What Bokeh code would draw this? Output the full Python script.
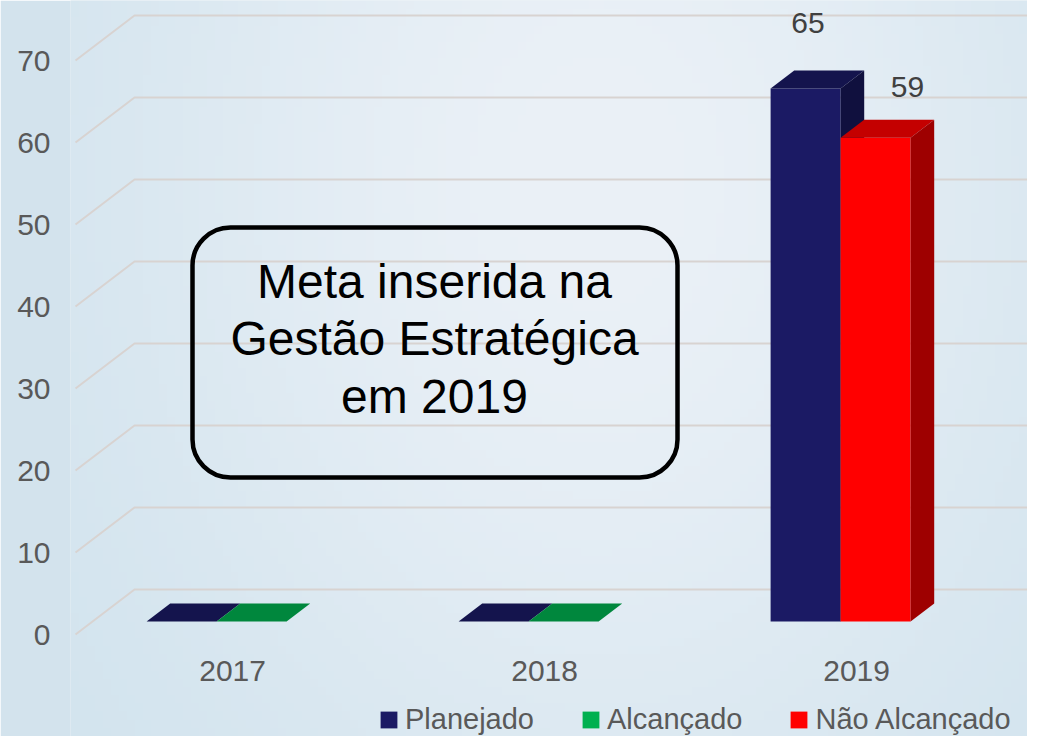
import numpy as np
from bokeh.plotting import figure
from bokeh.models import Range1d, FixedTicker, BoxAnnotation, Legend, LegendItem
from bokeh.core.properties import value
from bokeh.embed import file_html
from bokeh.resources import INLINE

# ---------------- data ----------------
years = ["2017", "2018", "2019"]
planejado = [0, 0, 65]
alcancado = [0, 0, None]
nao_alcancado = [None, None, 59]
y_ticks = [0, 10, 20, 30, 40, 50, 60, 70]
note_lines = ["Meta inserida na", "Gestão Estratégica", "em 2019"]

# ---------------- geometry / style ----------------
W, H = 1027, 736
LEFT = 70
PX_X = 312.0          # px per category
PX_Y = 8.2            # px per value unit
X0 = 199              # px of category 0 centre on the front plane
Y0 = 634              # px (from top) of value 0 on the front plane
x_start, x_end = (LEFT - X0) / PX_X, (W - X0) / PX_X
y_start, y_end = (Y0 - H) / PX_Y, Y0 / PX_Y

DX = 59 / PX_X        # full floor depth, x shift
DY = 45 / PX_Y        # full floor depth, y shift
D_F, D_B = 0.29, 0.69 # bar front / back depth
BAR_W = 70 / PX_X
GRID_X0 = (75 - X0) / PX_X

FONT = value("Liberation Sans")

def shade(hexcol, k):
    h = hexcol.lstrip("#")
    r, g, b = (int(h[i:i + 2], 16) for i in (0, 2, 4))
    return "#%02x%02x%02x" % (int(r * k), int(g * k), int(b * k))

series = [
    ("Planejado", planejado, "#1b1a64", -1),
    ("Alcançado", alcancado, "#00b050", 0),
    ("Não Alcançado", nao_alcancado, "#ff0000", 0),
]

p = figure(width=W, height=H, output_backend="svg", toolbar_location=None,
           x_range=Range1d(x_start, x_end), y_range=Range1d(y_start, y_end),
           x_axis_location=None, min_border_left=LEFT, min_border_right=0,
           min_border_top=0, min_border_bottom=0)
p.outline_line_color = None
p.xgrid.visible = False
p.ygrid.visible = False
p.background_fill_color = "#d9e7f0"
p.border_fill_color = "#d3e3ed"

# background gradient (style only)
nx, ny = 120, 90
u = (np.arange(nx) + 0.5) / nx
v = 1 - (np.arange(ny) + 0.5) / ny  # row 0 at bottom -> v from top
U, V = np.meshgrid(u, v)
wgt = np.exp(-(((U - 0.55) / 0.5) ** 2 + ((V - 0.25) / 0.9) ** 2))
edge = np.array([207, 226, 237], dtype=float)
centre = np.array([235, 241, 247], dtype=float)
img = np.zeros((ny, nx, 4), dtype=np.uint8)
for c in range(3):
    img[:, :, c] = (edge[c] + (centre[c] - edge[c]) * wgt).astype(np.uint8)
img[:, :, 3] = 255
p.image_rgba(image=[img.view(dtype=np.uint32).reshape(ny, nx)],
             x=x_start, y=y_start, dw=x_end - x_start, dh=y_end - y_start)

# 3-D gridlines
gxs, gys = [], []
for t in y_ticks:
    gxs.append([GRID_X0, GRID_X0 + DX, x_end + 0.1])
    gys.append([t, t + DY, t + DY])
p.multi_line(gxs, gys, line_color="#d8d3d1", line_width=2)

# y axis (front plane)
ax = p.yaxis[0]
ax.ticker = FixedTicker(ticks=y_ticks)
ax.axis_line_color = None
ax.major_tick_line_color = None
ax.minor_tick_line_color = None
ax.major_tick_out = 0
ax.major_tick_in = 0
ax.major_label_standoff = 20
ax.major_label_text_font_size = "30px"
ax.major_label_text_color = "#595959"
ax.major_label_text_font = "Liberation Sans"

# 3-D bars
legend_items = []
for name, vals, col, slot in series:
    fl, fr, fb, ft = [], [], [], []
    txs, tys, sxs, sys_ = [], [], [], []
    for i, val in enumerate(vals):
        if val is None:
            continue
        xl = i + slot * BAR_W
        xr = xl + BAR_W
        fl.append(xl + D_F * DX); fr.append(xr + D_F * DX)
        fb.append(D_F * DY); ft.append(val + D_F * DY)
        txs.append([xl + D_F * DX, xr + D_F * DX, xr + D_B * DX, xl + D_B * DX])
        tys.append([val + D_F * DY, val + D_F * DY, val + D_B * DY, val + D_B * DY])
        sxs.append([xr + D_F * DX, xr + D_B * DX, xr + D_B * DX, xr + D_F * DX])
        sys_.append([D_F * DY, D_B * DY, val + D_B * DY, val + D_F * DY])
    r = p.quad(left=fl, right=fr, bottom=fb, top=ft, fill_color=col, line_color=None)
    p.patches(txs, tys, fill_color=shade(col, 0.77), line_color=None)
    p.patches(sxs, sys_, fill_color=shade(col, 0.62), line_color=None)
    legend_items.append(LegendItem(label=name, renderers=[r]))

# value labels
lab_x, lab_y, lab_t = [], [], []
offsets = {"Planejado": (-0.03, 9.6), "Não Alcançado": (0.064, 7.8)}
for name, vals, col, slot in series:
    if name not in offsets:
        continue
    for i, val in enumerate(vals):
        if val is None or val == 0:
            continue
        cx = i + slot * BAR_W + BAR_W / 2 + (D_F + D_B) / 2 * DX
        lab_x.append(cx + offsets[name][0])
        lab_y.append(val + offsets[name][1])
        lab_t.append(str(val))
p.text(x=lab_x, y=lab_y, text=lab_t, text_align="center", text_baseline="middle",
       text_font=FONT, text_font_size="30px", text_color="#404040")

# category labels
p.text(x=[i + 0.106 for i in range(len(years))], y=[-4.5] * len(years), text=years,
       text_align="center", text_baseline="middle", text_font=FONT,
       text_font_size="30px", text_color="#595959")

# note box
box = BoxAnnotation(left=(192 - X0) / PX_X, right=(677 - X0) / PX_X,
                    top=(Y0 - 227) / PX_Y, bottom=(Y0 - 477) / PX_Y,
                    border_radius=38, fill_alpha=0, line_color="black",
                    line_alpha=1.0, line_width=4.5)
p.add_layout(box)
note_cx = (434 - X0) / PX_X
note_cy = (Y0 - 338) / PX_Y
step = 57.5 / PX_Y
p.text(x=[note_cx] * 3, y=[note_cy + step, note_cy, note_cy - step], text=note_lines,
       text_align="center", text_baseline="middle", text_font=FONT,
       text_font_size="48px", text_color="black")

legend = Legend(items=legend_items, orientation="horizontal", location=(308, 0),
                background_fill_alpha=0, border_line_alpha=0, padding=0, margin=0,
                spacing=46, label_standoff=6, glyph_width=21, glyph_height=21,
                label_text_font_size="29px", label_text_color="#595959",
                label_text_font="Liberation Sans")
p.add_layout(legend)

open("out.html", "w").write(file_html(p, INLINE))
